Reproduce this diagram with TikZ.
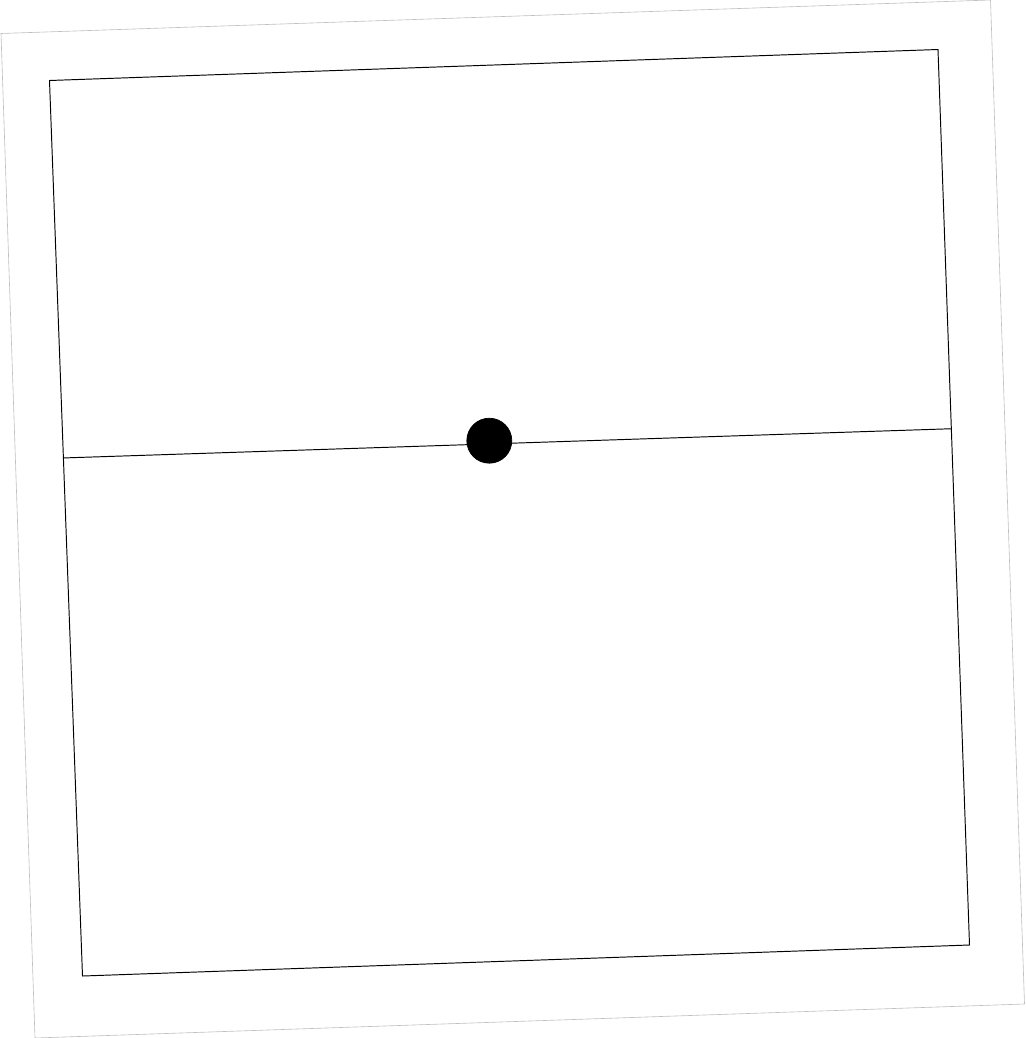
\documentclass[tikz,border=0pt]{standalone}
\usepackage{tikz}
\usetikzlibrary{calc}

\begin{document}
\begin{tikzpicture}[
    x=0.02cm, y=-0.02cm,
    page/.style={draw=black!25, line width=0.35pt},
    frame/.style={draw=black, line width=0.55pt},
    dot/.style={circle, fill=black, draw=black, minimum size=0.9cm, inner sep=0pt}
]
    \useasboundingbox (0,0) rectangle (1025,1038);
    \coordinate (p1) at (1,33.5);
    \coordinate (p2) at (990.5,0);
    \coordinate (p3) at (1024.5,1004);
    \coordinate (p4) at (35,1038);
    \draw[page] (p1) -- (p2) -- (p3) -- (p4) -- cycle;
    \coordinate (tl) at (49.5,80.5);
    \coordinate (tr) at (938,49.5);
    \coordinate (br) at (969.5,945);
    \coordinate (bl) at (82.5,976);
    \draw[frame] (tl) -- (tr) -- (br) -- (bl) -- cycle;
    \coordinate (ml) at ($(tl)!0.4215!(bl)$);
    \coordinate (mr) at ($(tr)!0.4235!(br)$);
    \draw[frame] (ml) -- (mr);
    \node[dot] (centre) at (489.3,440.7) {};
\end{tikzpicture}
\end{document}
